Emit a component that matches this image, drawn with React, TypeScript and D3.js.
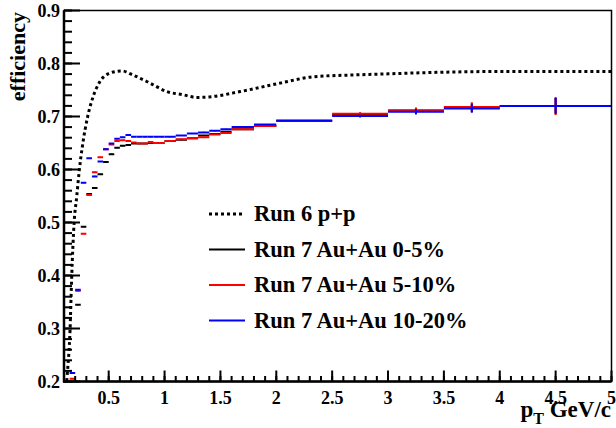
import React from "react";
import * as d3 from "d3";

// Run 6 p+p efficiency curve (pT GeV/c, efficiency)
const ppPt = [0.12, 0.13, 0.154, 0.169, 0.19, 0.214, 0.237, 0.264, 0.312, 0.36, 0.422, 0.5, 0.617, 0.72, 0.87, 1.02, 1.165, 1.288, 1.4, 1.676, 2.034, 2.33, 2.634, 2.93, 3.377, 3.6, 4.0, 5.0];
const ppEff = [0.19, 0.216, 0.297, 0.398, 0.498, 0.549, 0.599, 0.643, 0.7, 0.737, 0.766, 0.781, 0.786, 0.778, 0.763, 0.747, 0.741, 0.736, 0.737, 0.747, 0.763, 0.775, 0.778, 0.78, 0.783, 0.784, 0.785, 0.785];

// Histogram bin edges (pT)
const binEdges = [0.15, 0.2, 0.25, 0.3, 0.35, 0.4, 0.45, 0.5, 0.55, 0.6, 0.65, 0.7, 0.75, 0.8, 0.85, 0.9, 0.95, 1.0, 1.1, 1.2, 1.3, 1.4, 1.5, 1.6, 1.8, 2.0, 2.5, 3.0, 3.5, 4.0, 5.0];

const effBlack = [null, 0.345, 0.492, 0.554, 0.565, 0.591, 0.614, 0.629, 0.641, 0.645, 0.646, 0.649, 0.649, 0.649, 0.65, 0.65, 0.65, 0.654, 0.656, 0.659, 0.664, 0.667, 0.671, 0.676, 0.682, 0.692, 0.704, 0.711, 0.717, 0.72];
const effRed = [0.205, 0.371, 0.479, 0.552, 0.595, 0.623, 0.638, 0.647, 0.654, 0.655, 0.654, 0.651, 0.649, 0.649, 0.652, 0.65, 0.65, 0.654, 0.657, 0.659, 0.661, 0.666, 0.669, 0.676, 0.682, 0.692, 0.705, 0.712, 0.718, 0.72];
const effBlue = [0.216, 0.373, 0.575, 0.621, 0.587, 0.615, 0.638, 0.649, 0.658, 0.661, 0.665, 0.662, 0.662, 0.662, 0.662, 0.662, 0.662, 0.662, 0.664, 0.668, 0.67, 0.673, 0.676, 0.68, 0.685, 0.692, 0.701, 0.709, 0.715, 0.72];

const errBlack = [0.001, 0.001, 0.001, 0.001, 0.001, 0.001, 0.001, 0.001, 0.001, 0.001, 0.001, 0.001, 0.001, 0.001, 0.001, 0.001, 0.001, 0.001, 0.001, 0.001, 0.001, 0.001, 0.001, 0.001, 0.001, 0.0015, 0.003, 0.005, 0.008, 0.015];
const errRed = [0.001, 0.001, 0.001, 0.001, 0.001, 0.001, 0.001, 0.001, 0.001, 0.001, 0.001, 0.001, 0.001, 0.001, 0.001, 0.001, 0.001, 0.001, 0.001, 0.001, 0.001, 0.001, 0.001, 0.001, 0.001, 0.0015, 0.003, 0.005, 0.009, 0.017];
const errBlue = [0.001, 0.001, 0.001, 0.001, 0.001, 0.001, 0.001, 0.001, 0.001, 0.001, 0.001, 0.001, 0.001, 0.001, 0.001, 0.001, 0.001, 0.001, 0.001, 0.001, 0.001, 0.001, 0.001, 0.001, 0.001, 0.0015, 0.003, 0.005, 0.008, 0.015];

const seriesNames = ["Run 7 Au+Au 0-5%", "Run 7 Au+Au 5-10%", "Run 7 Au+Au 10-20%"];
const seriesColors = ["#000000", "#ff0000", "#0000ff"];
const ppName = "Run 6 p+p";

const xTicks = [0.5, 1, 1.5, 2, 2.5, 3, 3.5, 4, 4.5, 5];
const xTickLabels = ["0.5", "1", "1.5", "2", "2.5", "3", "3.5", "4", "4.5", "5"];
const yTicks = [0.2, 0.3, 0.4, 0.5, 0.6, 0.7, 0.8, 0.9];
const yTickLabels = ["0.2", "0.3", "0.4", "0.5", "0.6", "0.7", "0.8", "0.9"];

export default function App() {
  const W = 616, H = 428;
  const L = 64, R = 611.5, T = 10.5, B = 381.5;
  const x = d3.scaleLinear().domain([0.1, 5]).range([L, R]);
  const y = d3.scaleLinear().domain([0.2, 0.9]).range([B, T]);
  const font = "'Liberation Serif', 'Times New Roman', serif";

  const xMinor = d3.range(0.1, 5.0001, 0.1).map((v) => +v.toFixed(2));
  const yMinor = d3.range(0.2, 0.9001, 0.02).map((v) => +v.toFixed(3));

  const line = d3
    .line<number>()
    .x((_, i) => x(ppPt[i]))
    .y((_, i) => y(ppEff[i]))
    .curve(d3.curveMonotoneX);
  const ppPath = line(ppPt) || "";

  const series = [
    { vals: effBlack, errs: errBlack, color: seriesColors[0] },
    { vals: effRed, errs: errRed, color: seriesColors[1] },
    { vals: effBlue, errs: errBlue, color: seriesColors[2] },
  ];

  const legendRows = [
    { name: ppName, color: "#000", dotted: true },
    { name: seriesNames[0], color: seriesColors[0], dotted: false },
    { name: seriesNames[1], color: seriesColors[1], dotted: false },
    { name: seriesNames[2], color: seriesColors[2], dotted: false },
  ];
  const legendY = [214, 249.5, 285, 320.5];

  return (
    <svg
      width={W}
      height={H}
      style={{ position: "absolute", left: 0, top: 0, display: "block", background: "#fff" }}
      fontFamily={font}
      fontWeight="bold"
    >
      <defs>
        <clipPath id="plotclip">
          <rect x={L} y={T} width={R - L} height={B - T} />
        </clipPath>
      </defs>
      <rect x={0} y={0} width={W} height={H} fill="#fff" />

      <g clipPath="url(#plotclip)">
        <path d={ppPath} fill="none" stroke="#000" strokeWidth={3} strokeDasharray="3 3" />
        {series.map((s, si) => (
          <g key={si} stroke={s.color} strokeWidth={2}>
            {s.vals.map((v, i) =>
              v == null ? null : (
                <g key={i}>
                  <line x1={x(binEdges[i])} x2={x(binEdges[i + 1])} y1={y(v)} y2={y(v)} />
                  <line
                    x1={x((binEdges[i] + binEdges[i + 1]) / 2)}
                    x2={x((binEdges[i] + binEdges[i + 1]) / 2)}
                    y1={y(v - s.errs[i])}
                    y2={y(v + s.errs[i])}
                  />
                </g>
              )
            )}
          </g>
        ))}
      </g>

      {/* frame */}
      <rect x={L} y={T} width={R - L} height={B - T} fill="none" stroke="#000" strokeWidth={1.5} />
      <line x1={L} x2={L} y1={T} y2={B + 1} stroke="#000" strokeWidth={2.5} />
      <line x1={L - 1} x2={R} y1={B} y2={B} stroke="#000" strokeWidth={2.5} />

      {/* y ticks */}
      {yMinor.map((v, i) => (
        <line key={"ym" + i} x1={L} x2={L + 8} y1={y(v)} y2={y(v)} stroke="#000" strokeWidth={2} />
      ))}
      {yTicks.map((v, i) => (
        <g key={"y" + i}>
          <line x1={L} x2={L + 16} y1={y(v)} y2={y(v)} stroke="#000" strokeWidth={2} />
          <text x={L - 4} y={y(v) + 6} textAnchor="end" fontSize={18}>
            {yTickLabels[i]}
          </text>
        </g>
      ))}

      {/* x ticks */}
      {xMinor.map((v, i) => (
        <line key={"xm" + i} x1={x(v)} x2={x(v)} y1={B} y2={B - 5.5} stroke="#000" strokeWidth={2} />
      ))}
      {xTicks.map((v, i) => (
        <g key={"x" + i}>
          <line x1={x(v)} x2={x(v)} y1={B} y2={B - 11} stroke="#000" strokeWidth={2} />
          <text x={x(v)} y={404} textAnchor="middle" fontSize={18}>
            {xTickLabels[i]}
          </text>
        </g>
      ))}

      {/* axis titles */}
      <text x={611} y={417} textAnchor="end" fontSize={23}>
        p<tspan fontSize={16} dy={7}>T</tspan>
        <tspan dy={-7}> GeV/c</tspan>
      </text>
      <text transform="translate(25,12) rotate(-90)" textAnchor="end" fontSize={22}>
        efficiency
      </text>

      {/* legend */}
      {legendRows.map((r, i) => (
        <g key={"lg" + i}>
          <line
            x1={209}
            x2={245}
            y1={legendY[i]}
            y2={legendY[i]}
            stroke={r.color}
            strokeWidth={r.dotted ? 3 : 2}
            strokeDasharray={r.dotted ? "3 3" : undefined}
          />
          <text x={254} y={legendY[i] + 7} fontSize={22.5}>
            {r.name}
          </text>
        </g>
      ))}
    </svg>
  );
}
